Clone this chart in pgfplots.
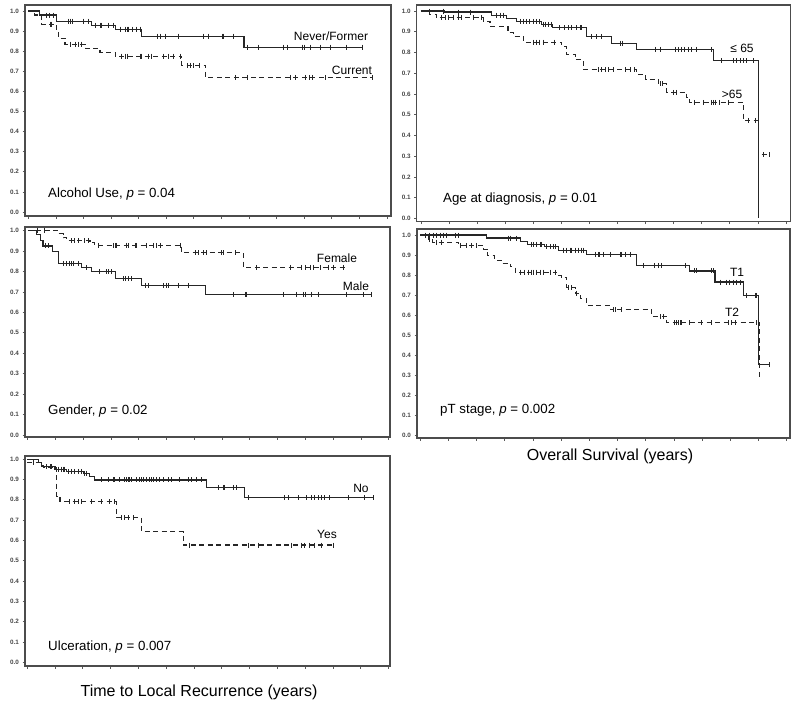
\documentclass[border=0pt]{standalone}
\usepackage{fontspec}
\setmainfont{Liberation Sans}
\usepackage{pgfplots}
\pgfplotsset{compat=1.18}
\pgfplotsset{
  kmaxis/.style={scale only axis, anchor=north west,
    xmin=-0.12, xmax=13.15, ymin=-0.02, ymax=1.03,
    xtick={0,1,2,3,4,5,6,7,8,9,10,11,12,13}, xticklabels={},
    ytick={0,0.1,0.2,0.3,0.4,0.5,0.6,0.7,0.8,0.9,1},
    tick align=outside, xtick pos=lower, ytick pos=left, major tick length=2.5pt,
    tick style={gray!70!black, line width=0.7pt},
    axis line style={gray!60!black, line width=1.2pt},
    /pgf/number format/assume math mode=true,
    yticklabel style={font=\fontsize{6.3}{6.3}\selectfont\bfseries, text=gray!55!black,
      /pgf/number format/fixed, /pgf/number format/fixed zerofill,
      /pgf/number format/precision=1, /pgf/number format/assume math mode=true},
  },
  surv/.style={const plot, black!85, line width=1.1pt, no marks},
  survd/.style={surv, dash pattern=on 5pt off 3.5pt},
  cens/.style={only marks, mark=|, mark size=2.5pt, black!85, mark options={line width=1pt, solid}},
}
\begin{document}
\begin{tikzpicture}[x=1pt,y=1pt]
\useasboundingbox (0,0) rectangle (800,-706);

% Panel 1: Alcohol
\begin{axis}[kmaxis, at={(25pt,-5pt)}, width=366pt, height=211pt]
\addplot[surv] coordinates {(0,1)(0.42,0.98)(1.03,0.95)(2.3,0.93)(3.15,0.91)(4.12,0.875)(7.82,0.82)(12.12,0.82)};
\addplot[survd] coordinates {(0,1)(0.24,0.98)(0.48,0.935)(1.03,0.90)(1.09,0.865)(1.33,0.835)(2.06,0.815)(2.6,0.795)(3.15,0.775)(5.57,0.73)(6.42,0.67)(12.48,0.67)};
\addplot[cens] coordinates {(0.67,0.98)(0.76,0.98)(0.91,0.98)
 (1.45,0.95)(1.54,0.95)(1.61,0.95)(2.0,0.95)(2.18,0.95)
 (2.42,0.93)(2.61,0.93)(2.67,0.93)(2.91,0.93)(3.09,0.93)
 (3.33,0.91)(3.52,0.91)(3.58,0.91)(3.64,0.91)(3.76,0.91)(3.94,0.91)(4.06,0.91)
 (4.67,0.875)(4.79,0.875)(4.99,0.875)(5.45,0.875)(6.36,0.875)(6.55,0.875)(7.03,0.875)(7.09,0.875)(7.45,0.875)
 (7.94,0.82)(8.36,0.82)(9.27,0.82)(9.39,0.82)(9.94,0.82)(10.0,0.82)(10.24,0.82)(10.61,0.82)(10.97,0.82)(11.52,0.82)(12.12,0.82)};
\addplot[cens] coordinates {(0.79,0.935)(0.85,0.935)
 (1.52,0.835)(1.70,0.835)(1.82,0.835)(1.94,0.835)
 (3.39,0.775)(3.52,0.775)(3.58,0.775)(4.06,0.775)(4.12,0.775)(4.36,0.775)(4.48,0.775)(4.91,0.775)(5.09,0.775)(5.27,0.775)(5.52,0.775)
 (5.76,0.73)(5.88,0.73)(6.0,0.73)(6.22,0.73)
 (7.52,0.67)(7.94,0.67)(9.52,0.67)(9.70,0.67)(10.06,0.67)(10.18,0.67)(10.30,0.67)(10.79,0.67)(12.48,0.67)};
\end{axis}

% Panel 2: Age
\begin{axis}[kmaxis, at={(416.7pt,-5pt)}, width=374pt, height=216.7pt, xmin=-0.15, xmax=13.17, ymin=-0.016, ymax=1.029]
\addplot[surv] coordinates {(0,1)(0.85,0.995)(2.5,0.98)(3.05,0.965)(3.41,0.95)(4.3,0.935)(4.7,0.92)(5.9,0.875)(6.79,0.845)(7.68,0.815)(10.42,0.76)(12.02,0)};
\addplot[survd] coordinates {(0,1)(0.3,0.985)(0.55,0.967)(2.22,0.95)(2.46,0.925)(3.1,0.895)(3.3,0.878)(3.65,0.85)(5.01,0.83)(5.2,0.79)(5.49,0.765)(5.78,0.717)(7.68,0.693)(8.0,0.668)(8.46,0.65)(8.75,0.608)(9.47,0.585)(9.58,0.56)(11.48,0.473)(12.02,0.307)(12.43,0.307)};
\addplot[cens] coordinates {(0.32,1)(0.8,1)(1.33,0.995)(1.75,0.995)
 (2.70,0.98)(2.82,0.98)(2.93,0.98)
 (3.53,0.95)(3.65,0.95)(3.76,0.95)(3.88,0.95)(4.0,0.95)(4.12,0.95)(4.24,0.95)
 (4.36,0.935)(4.42,0.935)(4.54,0.935)(4.66,0.935)
 (4.95,0.92)(5.13,0.92)(5.25,0.92)(5.37,0.92)(5.55,0.92)(5.67,0.92)(5.72,0.92)
 (6.08,0.875)(6.26,0.875)(6.44,0.875)
 (7.1,0.845)(7.18,0.845)
 (8.34,0.815)(8.52,0.815)(9.05,0.815)(9.17,0.815)(9.29,0.815)(9.40,0.815)(9.52,0.815)(9.64,0.815)(9.82,0.815)(10.36,0.815)
 (10.71,0.76)(11.13,0.76)(11.25,0.76)(11.37,0.76)(11.48,0.76)(11.60,0.76)(11.84,0.76)};
\addplot[cens] coordinates {(0.74,0.967)(0.86,0.967)(0.97,0.967)(1.15,0.967)(1.33,0.967)(1.45,0.967)(1.86,0.967)(2.16,0.967)
 (4.0,0.85)(4.12,0.85)(4.24,0.85)(4.36,0.85)(4.77,0.85)
 (6.32,0.717)(6.44,0.717)(6.56,0.717)(6.68,0.717)(6.85,0.717)(7.27,0.717)(7.45,0.717)(7.62,0.717)
 (8.52,0.65)(8.6,0.65)
 (8.99,0.608)(9.11,0.608)
 (9.76,0.56)(10.06,0.56)(10.36,0.56)(10.42,0.56)(10.48,0.56)(10.65,0.56)(10.95,0.56)
 (11.66,0.473)(11.90,0.473)
 (12.2,0.307)(12.43,0.307)};
\end{axis}

% Panel 3: Gender
\begin{axis}[kmaxis, at={(25pt,-227pt)}, width=365pt, height=210pt, xmin=-0.1, xmax=13.05, ymin=-0.01, ymax=1.018]
\addplot[surv] coordinates {(0,1)(0.3,0.98)(0.45,0.95)(0.55,0.925)(0.9,0.90)(1.1,0.84)(1.94,0.82)(2.3,0.80)(3.15,0.765)(4.1,0.732)(6.39,0.688)(12.39,0.688)};
\addplot[survd] coordinates {(0,1)(1.1,0.985)(1.28,0.965)(1.40,0.95)(2.24,0.94)(2.42,0.928)(5.55,0.892)(7.77,0.82)(11.43,0.82)};
\addplot[cens] coordinates {(0.65,0.925)(0.75,0.925)
 (1.28,0.84)(1.40,0.84)(1.52,0.84)(1.58,0.84)(1.64,0.84)(1.82,0.84)
 (2.12,0.82)
 (2.6,0.80)(2.84,0.80)(2.9,0.80)(3.03,0.80)
 (3.45,0.765)(3.51,0.765)(3.63,0.765)(3.75,0.765)
 (4.23,0.732)(4.35,0.732)(4.89,0.732)(5.01,0.732)(5.07,0.732)(5.43,0.732)(5.79,0.732)
 (7.41,0.688)(7.83,0.688)(7.89,0.688)(9.21,0.688)(9.69,0.688)(9.93,0.688)(9.99,0.688)(10.23,0.688)(10.47,0.688)(11.49,0.688)(12.09,0.688)(12.39,0.688)};
\addplot[cens] coordinates {(0.35,1)(0.6,1)
 (1.58,0.95)(1.70,0.95)(1.82,0.95)(2.06,0.95)(2.18,0.95)
 (2.55,0.928)(3.09,0.928)(3.15,0.928)(3.21,0.928)(3.57,0.928)(3.63,0.928)(3.87,0.928)(3.93,0.928)(4.29,0.928)(4.53,0.928)(4.65,0.928)(4.77,0.928)(5.49,0.928)
 (6.03,0.892)(6.15,0.892)(6.33,0.892)(6.45,0.892)(6.99,0.892)(7.05,0.892)(7.47,0.892)
 (8.25,0.82)(9.45,0.82)(9.87,0.82)(9.99,0.82)(10.17,0.82)(10.29,0.82)(10.53,0.82)(10.83,0.82)(11.01,0.82)(11.37,0.82)};
\end{axis}

% Panel 4: pT stage
\begin{axis}[kmaxis, at={(417pt,-229pt)}, width=373pt, height=209pt, xmin=-0.11, xmax=13.12, ymin=-0.011, ymax=1.03]
\addplot[surv] coordinates {(0,1)(2.36,0.985)(3.55,0.968)(3.8,0.954)(4.4,0.942)(4.9,0.925)(5.91,0.904)(7.68,0.849)(9.57,0.821)(10.46,0.766)(11.47,0.70)(12.0,0.355)(12.41,0.355)};
\addplot[survd] coordinates {(0,1)(0.3,0.98)(0.45,0.965)(1.36,0.949)(2.25,0.93)(2.4,0.896)(2.65,0.875)(2.9,0.86)(3.2,0.842)(3.37,0.815)(4.85,0.80)(5.0,0.788)(5.2,0.738)(5.5,0.71)(5.7,0.683)(5.91,0.65)(6.74,0.627)(8.22,0.594)(8.75,0.564)(12.03,0.28)};
\addplot[cens] coordinates {(0.18,1)(0.35,1)(0.47,1)(0.59,1)(0.71,1)(0.83,1)(0.95,1)(1.24,1)(1.36,1)
 (3.13,0.985)(3.19,0.985)(3.43,0.985)
 (3.96,0.954)(4.02,0.954)(4.14,0.954)(4.26,0.954)(4.32,0.954)
 (4.49,0.942)(4.61,0.942)(4.73,0.942)(4.79,0.942)
 (5.08,0.925)(5.20,0.925)(5.32,0.925)(5.38,0.925)(5.50,0.925)(5.61,0.925)(5.73,0.925)(5.79,0.925)
 (6.21,0.904)(6.32,0.904)(6.38,0.904)(6.50,0.904)(6.74,0.904)(7.09,0.904)(7.15,0.904)(7.27,0.904)(7.45,0.904)
 (7.92,0.849)(8.33,0.849)(8.45,0.849)(8.57,0.849)(9.40,0.849)
 (9.75,0.821)(9.81,0.821)(10.34,0.821)(10.40,0.821)
 (10.64,0.766)(10.87,0.766)(10.99,0.766)(11.11,0.766)(11.23,0.766)(11.35,0.766)
 (11.58,0.70)(11.88,0.70)(11.94,0.70)
 (12.41,0.355)};
\addplot[cens] coordinates {(0.35,0.98)(0.59,0.965)(0.75,0.965)
 (1.42,0.949)(1.65,0.949)(1.83,0.949)(2.01,0.949)
 (3.55,0.815)(3.72,0.815)(3.84,0.815)(3.96,0.815)(4.02,0.815)(4.14,0.815)(4.26,0.815)(4.37,0.815)(4.61,0.815)(4.79,0.815)
 (5.26,0.738)(5.38,0.738)(5.56,0.71)
 (6.86,0.627)(6.92,0.627)(7.15,0.627)
 (8.51,0.594)(8.63,0.594)
 (9.04,0.564)(9.10,0.564)(9.16,0.564)(9.22,0.564)(9.28,0.564)(9.57,0.564)(9.99,0.564)(10.34,0.564)(10.93,0.564)(11.05,0.564)(11.17,0.564)(11.94,0.564)};
\end{axis}

% Panel 5: Ulceration
\begin{axis}[kmaxis, at={(25pt,-456pt)}, width=365pt, height=210pt, xmin=-0.08, xmax=13.05, ymin=-0.018, ymax=1.015]
\addplot[surv] coordinates {(0,1)(0.4,0.985)(0.5,0.962)(1.0,0.95)(1.41,0.94)(2.01,0.93)(2.25,0.913)(2.43,0.897)(6.45,0.861)(7.83,0.81)(12.45,0.81)};
\addplot[survd] coordinates {(0,0.985)(0.5,0.97)(0.6,0.96)(1.06,0.815)(1.18,0.79)(3.21,0.711)(4.11,0.643)(5.61,0.577)(11.07,0.577)};
\addplot[cens] coordinates {(0.70,0.962)(0.82,0.962)(0.88,0.962)
 (1.12,0.95)(1.24,0.95)(1.29,0.95)(1.35,0.95)
 (1.47,0.94)(1.59,0.94)(1.71,0.94)(1.83,0.94)(1.95,0.94)
 (2.07,0.93)(2.13,0.93)
 (2.67,0.897)(2.91,0.897)(3.09,0.897)(3.15,0.897)(3.33,0.897)(3.51,0.897)(3.57,0.897)(3.63,0.897)(3.69,0.897)(3.75,0.897)(3.93,0.897)(4.05,0.897)(4.11,0.897)(4.17,0.897)(4.29,0.897)(4.41,0.897)(4.47,0.897)(4.53,0.897)(4.65,0.897)(4.77,0.897)(4.89,0.897)(5.07,0.897)(5.19,0.897)(5.49,0.897)(5.79,0.897)(5.91,0.897)(6.09,0.897)(6.27,0.897)
 (6.87,0.861)(7.05,0.861)(7.11,0.861)(7.41,0.861)(7.53,0.861)
 (7.95,0.81)(9.27,0.81)(9.39,0.81)(9.75,0.81)(10.05,0.81)(10.23,0.81)(10.35,0.81)(10.47,0.81)(10.59,0.81)(10.71,0.81)(10.89,0.81)(11.55,0.81)(12.15,0.81)(12.45,0.81)};
\addplot[cens] coordinates {(0.22,0.985)
 (1.53,0.79)(1.71,0.79)(1.83,0.79)(1.95,0.79)(2.31,0.79)(2.67,0.79)(2.97,0.79)(3.15,0.79)
 (3.39,0.711)(3.51,0.711)(3.63,0.711)(3.81,0.711)
 (5.85,0.577)(7.95,0.577)(8.31,0.577)(9.51,0.577)(9.87,0.577)(9.99,0.577)(10.17,0.577)(10.35,0.577)(10.59,0.577)(11.01,0.577)};
\end{axis}

% Text
\begin{scope}[every node/.style={font=\fontsize{12}{14}\selectfont, inner sep=0pt}]
\node at (331,-36) {Never/Former};
\node at (352,-70) {Current};
\node at (742,-48) {≤ 65};
\node at (732,-94) {>65};
\node at (337,-258) {Female};
\node at (356,-286) {Male};
\node at (737,-272) {T1};
\node at (732,-312) {T2};
\node at (361,-488) {No};
\node at (327,-534) {Yes};
\end{scope}
\begin{scope}[every node/.style={font=\fontsize{13.3}{15}\selectfont, inner sep=0pt, anchor=west}]
\node at (48,-194) {Alcohol Use, \textit{p} = 0.04};
\node at (443,-199) {Age at diagnosis, \textit{p} = 0.01};
\node at (48,-411) {Gender, \textit{p} = 0.02};
\node at (440,-410) {pT stage, \textit{p} = 0.002};
\node at (48,-647) {Ulceration, \textit{p} = 0.007};
\end{scope}
\node[font=\fontsize{16}{19}\selectfont, inner sep=0pt] at (610,-456) {Overall Survival (years)};
\node[font=\fontsize{16}{19}\selectfont, inner sep=0pt] at (199,-692) {Time to Local Recurrence (years)};
\end{tikzpicture}
\end{document}
